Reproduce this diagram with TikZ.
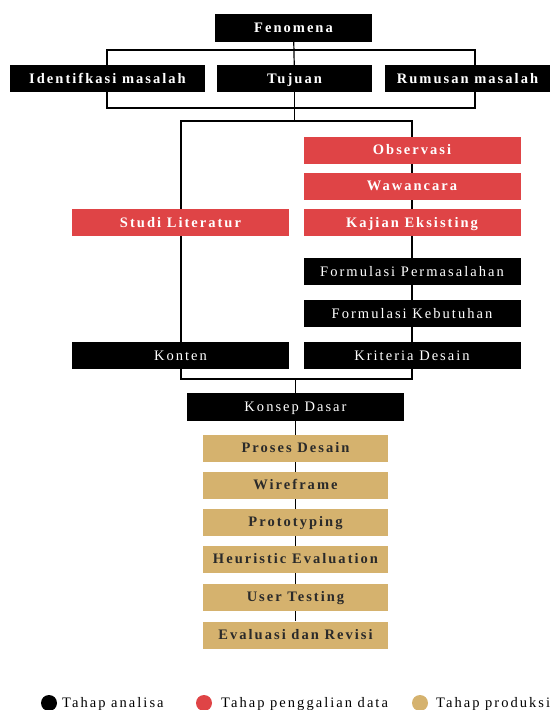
\documentclass[tikz,border=0pt]{standalone}
\usepackage{xcolor}
\usepackage{fontspec}
\setmainfont{Liberation Serif}
\newfontfamily\spacedfont[LetterSpace=14]{Liberation Serif}
\usepackage{tikz}
\usetikzlibrary{backgrounds}

\definecolor{merah}{HTML}{DF4446}
\definecolor{emas}{HTML}{D5B26E}
\definecolor{tinta}{HTML}{2A2A2A}

\begin{document}
\begin{tikzpicture}[
    x = 1pt, y = -1pt,
    every node/.style = {
        rectangle, minimum height=27pt, inner sep=0pt,
        text height=12pt, text depth=3pt,
        font=\spacedfont\fontsize{14.5}{16}\selectfont
    },
    hitam/.style = {fill=black, text=white},
    hitamtebal/.style = {hitam, font=\spacedfont\fontsize{14.5}{16}\selectfont\bfseries},
    merahbox/.style = {fill=merah, text=white, minimum width=217pt,
        font=\spacedfont\fontsize{14.5}{16}\selectfont\bfseries},
    emasbox/.style = {fill=emas, text=tinta, minimum width=185pt,
        font=\spacedfont\fontsize{14.5}{16}\selectfont\bfseries},
    garis/.style = {draw=black, line width=1.2pt},
    titik/.style = {circle, minimum size=16pt, minimum height=16pt,
        text height=0pt, text depth=0pt},
    ket/.style = {anchor=west, minimum height=0pt,
        font=\spacedfont\fontsize{14.5}{17}\selectfont}
  ]
    \useasboundingbox (0,0) rectangle (556,710);

    % baris atas
    \node[hitamtebal, minimum width=157pt, minimum height=28pt] (fen) at (293.5,28) {Fenomena};
    \node[hitamtebal, minimum width=195pt] (idm) at (107.5,78.5) {Identifkasi masalah};
    \node[hitamtebal, minimum width=155pt] (tuj) at (294.5,78.5) {Tujuan};
    \node[hitamtebal, minimum width=165pt] (rum) at (467.5,78.5) {Rumusan masalah};

    % penggalian data
    \node[merahbox] (obs) at (412,150) {Observasi};
    \node[merahbox] (waw) at (412,186) {Wawancara};
    \node[merahbox] (kaj) at (412,222.5) {Kajian Eksisting};
    \node[merahbox] (stu) at (180.5,222.5) {Studi Literatur};

    % analisa
    \node[hitam, minimum width=217pt] (fp) at (412,271.5) {Formulasi Permasalahan};
    \node[hitam, minimum width=217pt] (fk) at (412,313.5) {Formulasi Kebutuhan};
    \node[hitam, minimum width=217pt] (kon) at (180.5,355.5) {Konten};
    \node[hitam, minimum width=217pt] (kri) at (412,355.5) {Kriteria Desain};
    \node[hitam, minimum width=217pt, minimum height=28pt] (kd) at (295.5,407) {Konsep Dasar};

    % produksi
    \node[emasbox] (pd) at (295.5,448) {Proses Desain};
    \node[emasbox] (wf) at (295.5,485) {Wireframe};
    \node[emasbox] (pt) at (295.5,522) {Prototyping};
    \node[emasbox] (he) at (295.5,559) {Heuristic Evaluation};
    \node[emasbox] (ut) at (295.5,597) {User Testing};
    \node[emasbox] (ev) at (295.5,635) {Evaluasi dan Revisi};

    % garis penghubung (di belakang kotak)
    \coordinate (a1) at (107,50);
    \coordinate (a2) at (475,108);
    \coordinate (b1) at (181,121);
    \coordinate (b2) at (412,379);
    \begin{pgfonlayer}{background}
        \draw[garis] (a1) rectangle (a2);
        \draw[garis] (b1) rectangle (b2);
        \draw[garis] (fen) -- (tuj);
        \draw[garis] (tuj) -- (tuj |- b1);
        \draw[garis] (kd |- b2) -- (ev);
    \end{pgfonlayer}

    % keterangan
    \node[titik, fill=black] (lg1) at (49,703) {};
    \node[ket] (lt1) at (62,703) {Tahap analisa};
    \node[titik, fill=merah] (lg2) at (204,703) {};
    \node[ket] (lt2) at (221,703) {Tahap penggalian data};
    \node[titik, fill=emas] (lg3) at (420,703) {};
    \node[ket] (lt3) at (436,703) {Tahap produksi};
\end{tikzpicture}
\end{document}
